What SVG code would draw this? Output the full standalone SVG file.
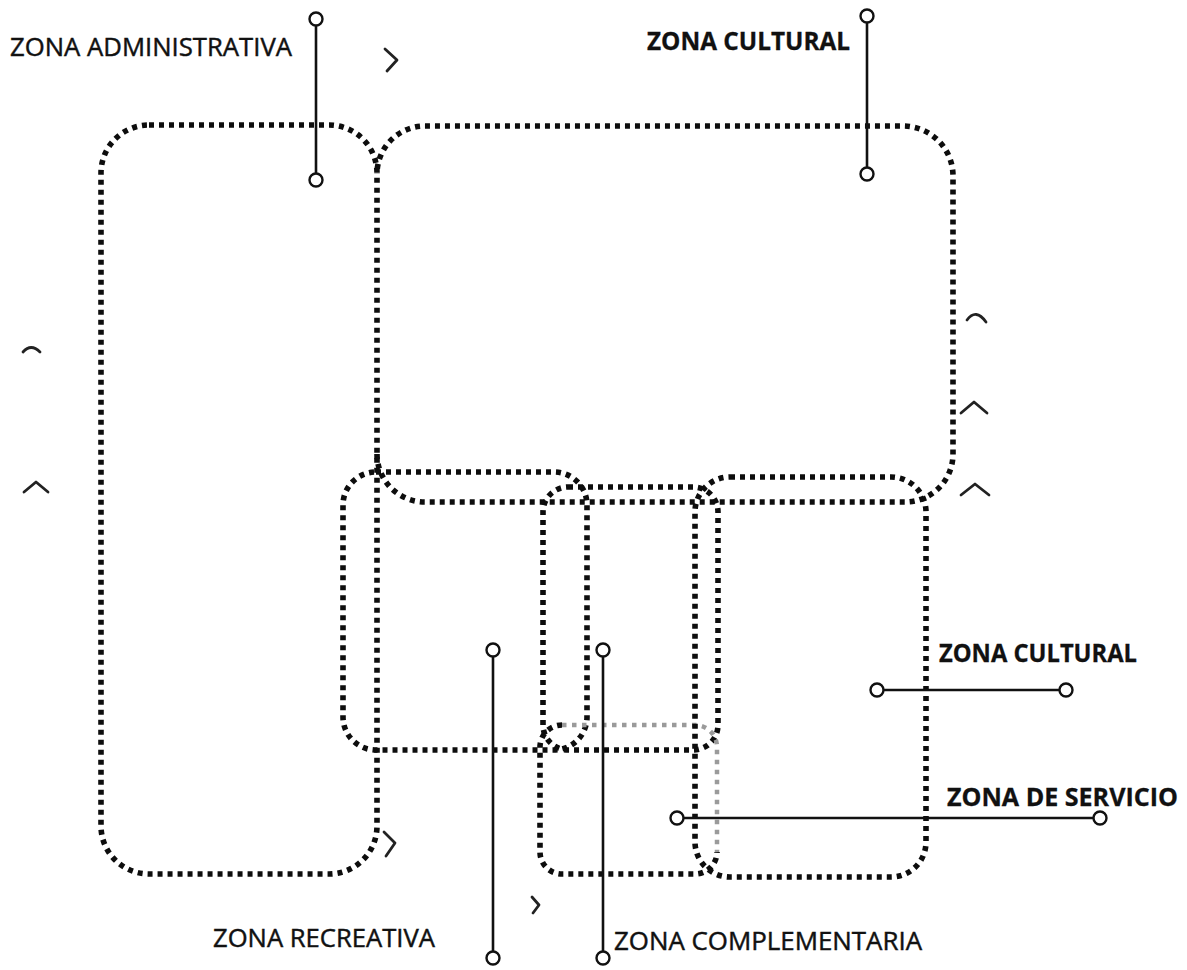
<svg xmlns="http://www.w3.org/2000/svg" width="1187" height="970" viewBox="0 0 1187 970">
<style>
.zone{fill:none;stroke:#0d0d0d;stroke-width:5.6;stroke-dasharray:5 5}
.zone-faint{fill:none;stroke:#9a9a9a;stroke-width:4.5;stroke-dasharray:4.5 5.5}
.lead{stroke:#111;stroke-width:2.6;fill:none}
.end{fill:#fff;stroke:#111;stroke-width:2.4}
.lbl{font-family:"Open Sans","Liberation Sans",sans-serif;font-size:26px;fill:#111;stroke:#111;stroke-width:0.45}
.b{font-weight:bold;font-size:25px;stroke-width:0.3}
.mark{fill:none;stroke:#222;stroke-width:2.8;stroke-linecap:round;stroke-linejoin:round}
</style>
<rect width="1187" height="970" fill="#fff"/>

<g id="zone-administrativa">
<rect class="zone" x="101" y="125" width="276" height="749" rx="48" ry="48"/>
</g>

<g id="zone-cultural">
<path class="zone" d="M377,454 A48,48 0 0 0 425,502 L905,502 A48,48 0 0 0 953,454 L953,176 A50,50 0 0 0 903,126 L425,126 A48,48 0 0 0 377,174"/>
</g>

<g id="zone-recreativa">
<rect class="zone" x="343" y="472" width="244" height="278" rx="33" ry="33"/>
</g>

<g id="zone-complementaria">
<rect class="zone" x="543" y="487" width="175" height="263" rx="25" ry="25"/>
</g>

<g id="zone-complementaria-inferior">
<path class="zone" d="M562,725 A22,22 0 0 0 540,747 L540,852 A22,22 0 0 0 562,874 L695,874 A22,22 0 0 0 717,852"/>
<path class="zone-faint" d="M562,725 L695,725 A22,22 0 0 1 717,747 L717,852"/>
</g>

<g id="zone-servicio">
<rect class="zone" x="695" y="477" width="231" height="400" rx="35" ry="35"/>
</g>

<g id="connectors">
<line class="lead" x1="316" y1="26" x2="316" y2="173"/>
<circle class="end" cx="316" cy="19" r="6.5"/>
<circle class="end" cx="316" cy="180" r="6.5"/>

<line class="lead" x1="867" y1="23" x2="867" y2="167"/>
<circle class="end" cx="867" cy="16" r="6.5"/>
<circle class="end" cx="867" cy="174" r="6.5"/>

<line class="lead" x1="493" y1="657" x2="493" y2="951"/>
<circle class="end" cx="493" cy="650" r="6.5"/>
<circle class="end" cx="493" cy="958" r="6.5"/>

<line class="lead" x1="603" y1="657" x2="603" y2="951"/>
<circle class="end" cx="603" cy="650" r="6.5"/>
<circle class="end" cx="603" cy="958" r="6.5"/>

<line class="lead" x1="884" y1="690" x2="1059" y2="690"/>
<circle class="end" cx="877" cy="690" r="6.5"/>
<circle class="end" cx="1066" cy="690" r="6.5"/>

<line class="lead" x1="684" y1="818" x2="1093" y2="818"/>
<circle class="end" cx="677" cy="818" r="6.5"/>
<circle class="end" cx="1100" cy="818" r="6.5"/>
</g>

<g id="labels">
<text class="lbl" x="10" y="56" textLength="282" lengthAdjust="spacingAndGlyphs">ZONA ADMINISTRATIVA</text>
<text class="lbl b" x="647" y="50" textLength="203" lengthAdjust="spacingAndGlyphs">ZONA CULTURAL</text>
<text class="lbl b" x="939" y="662" textLength="198" lengthAdjust="spacingAndGlyphs">ZONA CULTURAL</text>
<text class="lbl b" x="947" y="806" textLength="231" lengthAdjust="spacingAndGlyphs">ZONA DE SERVICIO</text>
<text class="lbl" x="213" y="947" textLength="222" lengthAdjust="spacingAndGlyphs">ZONA RECREATIVA</text>
<text class="lbl" x="614" y="950" textLength="308" lengthAdjust="spacingAndGlyphs">ZONA COMPLEMENTARIA</text>
</g>

<g id="marks">
<path class="mark" d="M385,49 L397,60 L387,71" stroke="#777" stroke-width="2"/>
<path class="mark" d="M384,832 L395,843 L386,856"/>
<path class="mark" d="M24,492 L36,482 L48,492"/>
<path class="mark" d="M961,413 L974,402 L987,413"/>
<path class="mark" d="M961,495 L975,484 L989,495"/>
<path class="mark" d="M967,320 Q976,308 986,322" stroke="#666" stroke-width="2"/>
<path class="mark" d="M23,352 Q31,343 40,352" stroke="#999" stroke-width="1.5"/>
<path class="mark" d="M532,897 L539,905 L533,913" stroke="#aaa" stroke-width="1.5"/>
</g>
</svg>
